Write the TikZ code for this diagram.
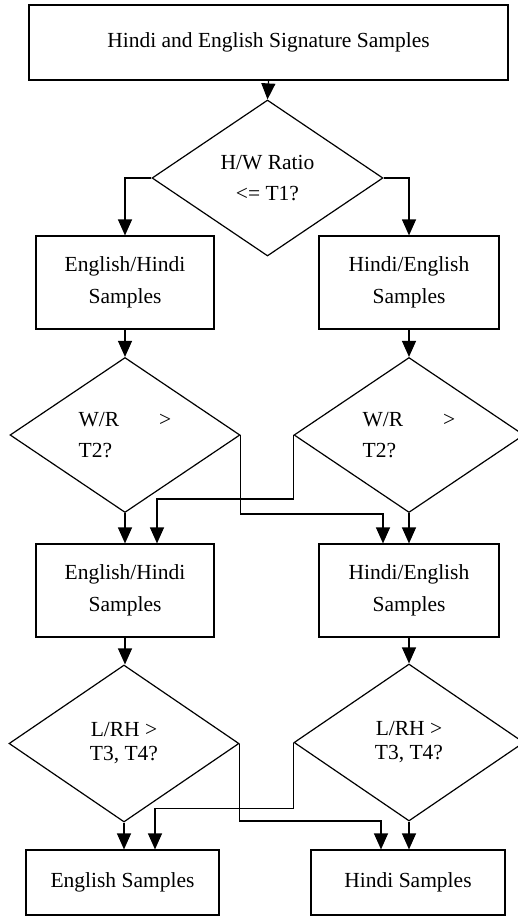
\documentclass[tikz,border=0pt]{standalone}
\usepackage{fontspec}
\setmainfont{Liberation Serif}
\usetikzlibrary{shapes.geometric,arrows.meta}
\begin{document}
\begin{tikzpicture}[x=1pt,y=-1pt, line width=1.2pt,
 box/.style={draw, rectangle, inner sep=0pt, align=center, font=\fontsize{21.5}{32}\selectfont},
 dia/.style={draw, diamond, inner sep=0pt, minimum width=230pt, minimum height=155pt, align=center, font=\fontsize{21.5}{31}\selectfont},
 arr/.style={-{Triangle[length=16pt,width=14pt]}}]
\useasboundingbox (0,0) rectangle (518,916);
\clip (0,0) rectangle (518,916);
\node[box, minimum width=479pt, minimum height=75pt] (top) at (268.5,42.5) {Hindi and English Signature Samples};
\node[dia, minimum width=231pt, minimum height=156pt] (d1) at (267.5,178) {H/W Ratio\\{<}= T1?};
\node[box, minimum width=178pt, minimum height=93pt] (b2l) at (125,282.5) {English/Hindi\\Samples};
\node[box, minimum width=180pt, minimum height=93pt] (b2r) at (409,282.5) {Hindi/English\\Samples};
\node[dia, align=left] (d2l) at (125,435) {W/R\hspace{40pt}>\\T2?};
\node[dia, align=left] (d2r) at (409,435) {W/R\hspace{40pt}>\\T2?};
\node[box, minimum width=178pt, minimum height=93pt] (b3l) at (125,590.5) {English/Hindi\\Samples};
\node[box, minimum width=180pt, minimum height=93pt] (b3r) at (409,590.5) {Hindi/English\\Samples};
\node[dia, minimum height=157pt, font=\fontsize{21.5}{24}\selectfont] (d3l) at (124,743.5) {L/RH >\\T3, T4?};
\node[dia, minimum height=157pt, font=\fontsize{21.5}{24}\selectfont] (d3r) at (409,742.5) {L/RH >\\T3, T4?};
\node[box, minimum width=193pt, minimum height=65pt] (b4l) at (122.5,882.5) {English Samples};
\node[box, minimum width=194pt, minimum height=65pt] (b4r) at (408,882.5) {Hindi Samples};
\draw[arr] (top.south) -- (d1.north);
\draw[arr] (d1.west) -| (b2l.north);
\draw[arr] (d1.east) -| (b2r.north);
\draw[arr] (b2l.south) -- (d2l.north);
\draw[arr] (b2r.south) -- (d2r.north);
\draw[arr] (d2l.south) -- (b3l.north);
\draw[arr] (d2r.south) -- (b3r.north);
\draw[arr] (d2l.east) -- ++(0,79) -| ([xshift=-26pt]b3r.north);
\draw[arr] (d2r.west) -- ++(0,64) -| ([xshift=32pt]b3l.north);
\draw[arr] (b3l.south) -- (d3l.north -| b3l.south);
\draw[arr] (b3r.south) -- (d3r.north);
\draw[arr] (d3l.south) -- (d3l.south |- b4l.north);
\draw[arr] (d3r.south) -- (d3r.south |- b4r.north);
\draw[arr] (d3l.east) -- ++(0,77.5) -| ([xshift=-27pt]b4r.north);
\draw[arr] (d3r.west) -- ++(0,66) -| ([xshift=32.5pt]b4l.north);
\end{tikzpicture}
\end{document}
